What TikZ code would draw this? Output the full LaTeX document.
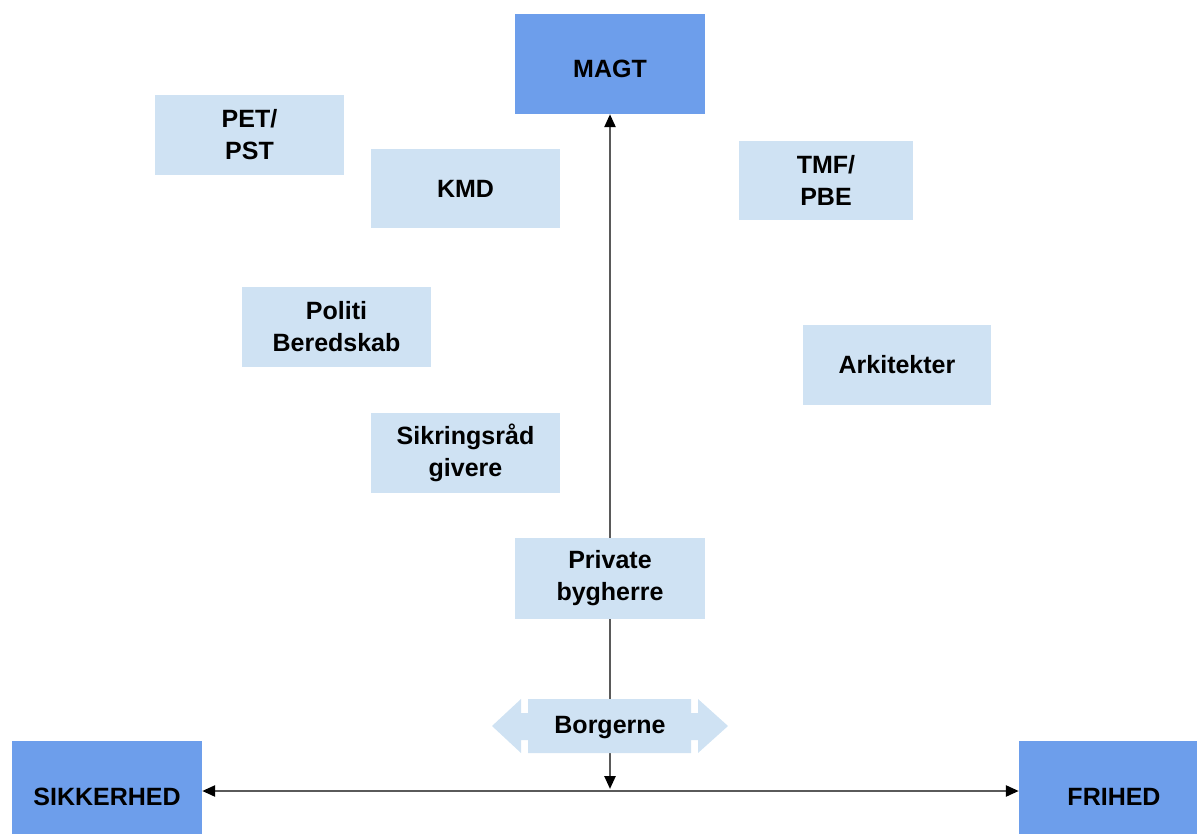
\documentclass[tikz,border=0pt]{standalone}
\usepackage{fontspec}
\setmainfont{Liberation Sans}
\usetikzlibrary{arrows.meta}
\definecolor{darkbox}{HTML}{6D9EEB}
\definecolor{lightbox}{HTML}{CFE2F3}
\definecolor{axisgray}{HTML}{5A5A5A}
\begin{document}
\begin{tikzpicture}[x=1pt,y=-1pt,
  txt/.style={font=\fontsize{25}{32}\selectfont\bfseries, align=center, text=black},
  actor/.style={txt, fill=lightbox, inner sep=0pt},
  pole/.style={txt, fill=darkbox, inner sep=0pt, minimum width=190pt, minimum height=100pt, text height=28pt, text depth=0pt},
  axis/.style={draw=axisgray, line width=2.5pt, {Triangle[width=11pt,length=13pt,fill=black,color=black]}-{Triangle[width=11pt,length=13pt,fill=black,color=black]}}
]
\useasboundingbox (0,0) rectangle (1197,834);
\clip (0,0) rectangle (1197,834);

% poles
\node[pole] (magt) at (610,64) {MAGT};
\node[pole] (sik) at (107,791) {SIKKERHED};
\node[pole] (fri) at (1114,791) {FRIHED};

% axes (behind the actor boxes)
\coordinate (vb) at (610,789);
\coordinate (hy) at (610,791);
\draw[axis] (magt.south) -- (vb);
\draw[axis] (sik.east |- hy) -- (fri.west |- hy);

% actors
\node[actor, minimum width=189pt, minimum height=80pt] (pet) at (249.5,135) {PET/\\PST};
\node[actor, minimum width=189pt, minimum height=79pt] (kmd) at (465.5,188.5) {KMD};
\node[actor, minimum width=174pt, minimum height=79pt] (tmf) at (826,180.5) {TMF/\\PBE};
\node[actor, minimum width=189pt, minimum height=80pt] (pol) at (336.5,327) {Politi\\Beredskab};
\node[actor, minimum width=188pt, minimum height=80pt] (ark) at (897,365) {Arkitekter};
\node[actor, minimum width=189pt, minimum height=80pt] (sikr) at (465.5,453) {Sikringsråd\\givere};
\node[actor, minimum width=190pt, minimum height=81pt] (priv) at (610,578.5) {Private\\bygherre};

% Borgerne double arrow shape
\fill[lightbox] (492,726) -- (521,699) -- (521,713) -- (528,713) -- (528,699)
  -- (691,699) -- (691,713) -- (698,713) -- (698,699) -- (728,726)
  -- (698,753) -- (698,740) -- (691,740) -- (691,753) -- (528,753)
  -- (528,740) -- (521,740) -- (521,753) -- cycle;
\node[txt] (borg) at (610,728) {Borgerne};
\end{tikzpicture}
\end{document}
